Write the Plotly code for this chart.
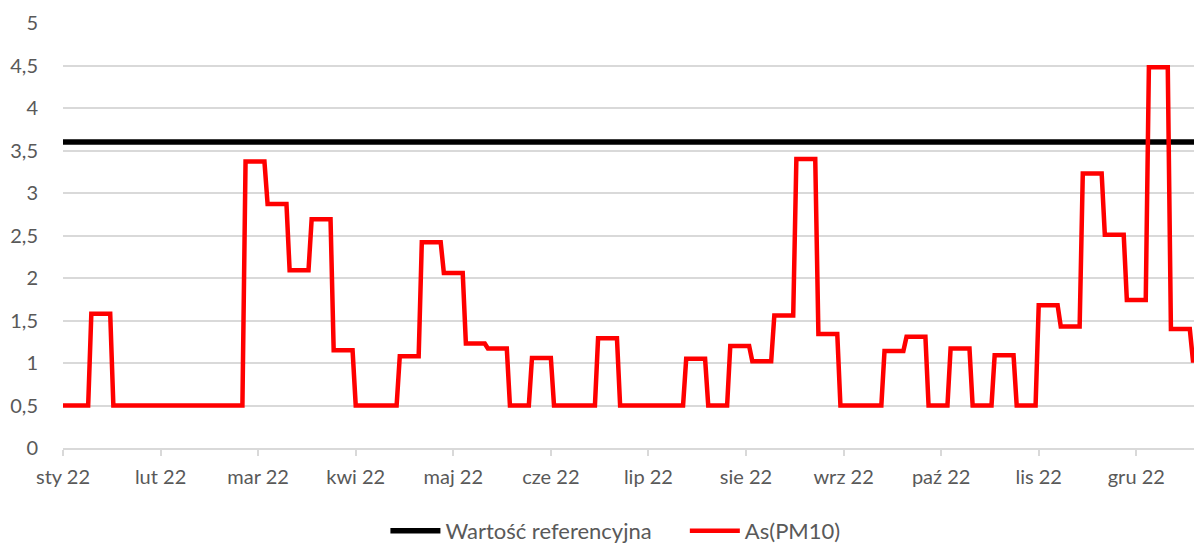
import pandas as pd
import plotly.graph_objects as go

# Weekly composite samples (Mon-Sun), value held for each day of the week
week_starts = [
    "2021-12-27", "2022-01-03", "2022-01-10", "2022-01-17", "2022-01-24", "2022-01-31",
    "2022-02-07", "2022-02-14", "2022-02-21", "2022-02-28", "2022-03-07", "2022-03-14",
    "2022-03-21", "2022-03-28", "2022-04-04", "2022-04-11", "2022-04-18", "2022-04-25",
    "2022-05-02", "2022-05-09", "2022-05-16", "2022-05-23", "2022-05-30", "2022-06-06",
    "2022-06-13", "2022-06-20", "2022-06-27", "2022-07-04", "2022-07-11", "2022-07-18",
    "2022-07-25", "2022-08-01", "2022-08-08", "2022-08-15", "2022-08-22", "2022-08-29",
    "2022-09-05", "2022-09-12", "2022-09-19", "2022-09-26", "2022-10-03", "2022-10-10",
    "2022-10-17", "2022-10-24", "2022-10-31", "2022-11-07", "2022-11-14", "2022-11-21",
    "2022-11-28", "2022-12-05", "2022-12-12", "2022-12-19", "2022-12-26",
]
as_pm10 = [
    0.50, 0.50, 1.58, 0.50, 0.50, 0.50,
    0.50, 0.50, 0.50, 3.37, 2.87, 2.09,
    2.69, 1.15, 0.50, 0.50, 1.08, 2.42,
    2.06, 1.23, 1.17, 0.50, 1.06, 0.50,
    0.50, 1.29, 0.50, 0.50, 0.50, 1.05,
    0.50, 1.20, 1.02, 1.56, 3.40, 1.34,
    0.50, 0.50, 1.14, 1.31, 0.50, 1.17,
    0.50, 1.09, 0.50, 1.68, 1.43, 3.23,
    2.51, 1.74, 4.48, 1.40, 1.03,
]
reference_value = 3.6

tick_dates = ["2022-01-01", "2022-02-01", "2022-03-04", "2022-04-04", "2022-05-05",
              "2022-06-05", "2022-07-06", "2022-08-06", "2022-09-06", "2022-10-07",
              "2022-11-07", "2022-12-08"]
tick_labels = ["sty 22", "lut 22", "mar 22", "kwi 22", "maj 22", "cze 22",
               "lip 22", "sie 22", "wrz 22", "paź 22", "lis 22", "gru 22"]

# daily series: each day carries the value of its weekly sample
days = pd.date_range("2022-01-01", "2022-12-31", freq="D")
ws = pd.to_datetime(week_starts)
idx = ws.searchsorted(days, side="right") - 1
daily_as = [as_pm10[i] for i in idx]
daily_ref = [reference_value] * len(days)

font_family = "Lato, 'Open Sans', sans-serif"
grey_text = "#595959"
grid = "#d9d9d9"

fig = go.Figure()
fig.add_trace(go.Scatter(x=days, y=daily_ref, mode="lines",
                         name="Wartość referencyjna" + "\u00a0" * 5,
                         line=dict(color="#000000", width=5.5)))
fig.add_trace(go.Scatter(x=days, y=daily_as, mode="lines", name="As(PM10)",
                         line=dict(color="#ff0000", width=4.5)))

# the page body adds an 8 px offset, so the figure is sized to fit the window
fig.update_layout(
    width=1194, height=535,
    margin=dict(l=55, r=0, t=15, b=95, autoexpand=False),
    paper_bgcolor="white", plot_bgcolor="white",
    separators=", ",
    font=dict(family=font_family, size=20, color=grey_text),
    showlegend=True,
    legend=dict(orientation="h", x=0.485, xanchor="center", y=-0.195, yanchor="middle",
                font=dict(size=22, color=grey_text), itemwidth=50),
    xaxis=dict(
        type="date", automargin=False,
        range=["2022-01-01", "2022-12-28 21:00"],
        tickmode="array", tickvals=tick_dates, ticktext=tick_labels,
        showgrid=False, showline=True, linecolor=grid, linewidth=1.5,
        ticks="outside", ticklen=6, tickcolor=grid, tickwidth=1.5,
        zeroline=False, fixedrange=True, ticklabelstandoff=4,
    ),
    yaxis=dict(
        range=[0, 5], dtick=0.5, tick0=0, automargin=False,
        showgrid=True, gridcolor=grid, gridwidth=1.5,
        zeroline=False, showline=False, ticks="",
        ticklabelstandoff=24,
    ),
)

fig.write_html("out.html")
